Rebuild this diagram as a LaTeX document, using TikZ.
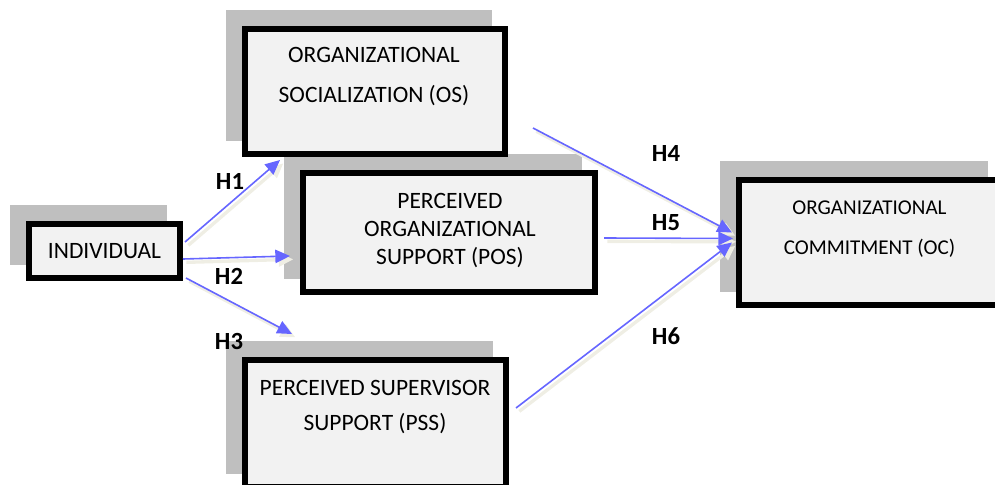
\documentclass[tikz,border=0pt]{standalone}
\usepackage{fontspec}
\setmainfont{Carlito}
\usetikzlibrary{positioning,arrows.meta,shadows,calc}
\definecolor{boxfill}{HTML}{F2F2F2}
\definecolor{shadowgray}{HTML}{BFBFBF}
\definecolor{hyparrow}{RGB}{102,102,255}
\definecolor{arrowshade}{HTML}{EFEEE4}
\tikzset{
	every node/.style = {inner sep=0},
	>={Triangle[length=11pt,width=10pt]},
	construct/.style = {rectangle, draw=black, line width=4.5pt, fill=boxfill,
		general shadow={fill=shadowgray, draw=shadowgray, shadow xshift=-12pt, shadow yshift=12pt}},
	boxtext/.style = {align=center, font=\fontsize{17.6}{30}\selectfont},
	hyp/.style = {font=\fontsize{18.5}{22}\selectfont\bfseries},
	link/.style = {->, draw=hyparrow, line width=1.2pt,
		preaction={draw=arrowshade, line width=2.5pt, transform canvas={shift={(2.5pt,-2.5pt)}}}}
}

\begin{document}
\begin{tikzpicture}[x=0.75pt, y=-0.75pt]
		\useasboundingbox (0,0) rectangle (995,485);
		\clip (0,0) rectangle (995,485);
		
		\node[construct, minimum width=113.25pt, minimum height=40.5pt, font=\fontsize{17.6}{21}\selectfont] (ind) at (104.5,251) {INDIVIDUAL};
		
		\node[construct, minimum width=219pt, minimum height=89.25pt] (pos) at (449,232.5) {};
		\node[boxtext, font=\fontsize{17.6}{21}\selectfont] (postext) at (450,231) {PERCEIVED\\ORGANIZATIONAL\\SUPPORT (POS)};
		
		\node[construct, minimum width=195pt, minimum height=93.75pt] (os) at (375,91.5) {};
		\node[boxtext] (ostext) at (374,77) {ORGANIZATIONAL\\SOCIALIZATION (OS)};
		
		\node[construct, minimum width=195.75pt, minimum height=95.25pt] (pss) at (375.5,423.5) {};
		\node[boxtext, font=\fontsize{17.6}{26}\selectfont] (psstext) at (375,407) {PERCEIVED SUPERVISOR\\SUPPORT (PSS)};
		
		\node[construct, minimum width=196.5pt, minimum height=93.75pt] (oc) at (870,242.5) {};
		\node[boxtext, font=\fontsize{15.8}{30}\selectfont] (octext) at (869.5,229) {ORGANIZATIONAL\\COMMITMENT (OC)};
		
		% hypotheses
		\draw[link] ($(ind.east)+(2,-9)$) -- ($(pos.north west)+(-20,-10)$);
		\draw[link] ($(ind.east)+(0,8)$) -- ($(pos.west)+(-10,23.5)$);
		\draw[link] ($(ind.south east)+(3,-3)$) -- ($(pss.north west)+(50,-23)$);
		\draw[link] ($(os.south east)+(25,-29)$) -- ($(oc.west)+(-4,-10)$);
		\draw[link] ($(pos.east)+(6,5.5)$) -- ($(oc.west)+(-3,-4)$);
		\draw[link] ($(pss.east)+(7,-15.5)$) -- ($(oc.west)+(-4,0)$);
		
		\node[hyp] (h1) at (230,181.5) {H1};
		\node[hyp] (h2) at (229,276) {H2};
		\node[hyp] (h3) at (229,341) {H3};
		\node[hyp] (h4) at (666,153) {H4};
		\node[hyp] (h5) at (666,223) {H5};
		\node[hyp] (h6) at (666,336.5) {H6};
\end{tikzpicture}
\end{document}
